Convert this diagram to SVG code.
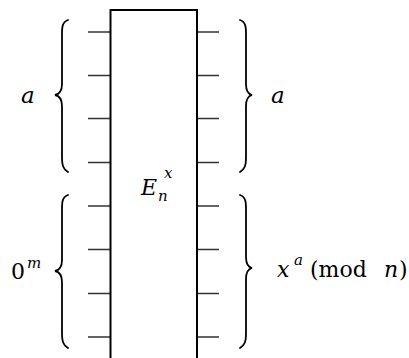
<svg xmlns="http://www.w3.org/2000/svg" width="409" height="358" viewBox="0 0 409 358">
<rect width="409" height="358" fill="#fff"/>
<g id="connectors" stroke="#333" stroke-width="1.6" fill="none">
<path d="M88 32H111M88 75.5H111M88 118.5H111M88 162.5H111M88 206H111M88 249.5H111M88 293.5H111M88 337H111"/>
<path d="M197 32H219M197 75.5H219M197 118.5H219M197 162.5H219M197 206H219M197 249.5H219M197 293.5H219M197 337H219"/>
</g>
<g font-family="'DejaVu Serif', serif" fill="#000">
<g id="gate">
<rect x="110.5" y="10" width="86.5" height="360" fill="none" stroke="#000" stroke-width="2"/>
<text x="141" y="195" font-size="22" font-style="italic">E</text>
<text x="158" y="201" font-size="15" font-style="italic">n</text>
<text x="164" y="178" font-size="15" font-style="italic">x</text>
</g>
<g id="brace-in-a">
<path stroke="#000" stroke-width="1.8" fill="none" stroke-linecap="round" d="M68 20C62 22 62 28 62 34V84C62 91 60 94 55 95C60 96 62 99 62 106V158C62 165 63 169 68 172"/>
<text x="21" y="103" font-size="23" font-style="italic">a</text>
</g>
<g id="brace-out-a">
<path stroke="#000" stroke-width="1.8" fill="none" stroke-linecap="round" d="M240 20C246 22 246 28 246 34V84C246 91 248 94 252 95C248 96 246 99 246 106V158C246 165 245 169 240 172"/>
<text x="271" y="103" font-size="23" font-style="italic">a</text>
</g>
<g id="brace-in-0">
<path stroke="#000" stroke-width="1.8" fill="none" stroke-linecap="round" d="M68 195C62 197 62 203 62 209V260C62 267 60 270 55 271C60 272 62 275 62 282V334C62 341 63 345 68 348"/>
<text x="11" y="279" font-size="22">0</text>
<text x="27" y="268" font-size="15" font-style="italic">m</text>
</g>
<g id="brace-out-x">
<path stroke="#000" stroke-width="1.8" fill="none" stroke-linecap="round" d="M240 195C246 197 246 203 246 209V257C246 264 248 267 252 268C248 269 246 272 246 279V334C246 341 245 345 240 348"/>
<text x="277" y="277" font-size="22" font-style="italic">x</text>
<text x="294" y="265" font-size="15" font-style="italic">a</text>
<text x="310" y="277" font-size="22">(mod</text>
<text x="384" y="277" font-size="22" font-style="italic">n</text>
<text x="399" y="277" font-size="22">)</text>
</g>
</g>
</svg>
